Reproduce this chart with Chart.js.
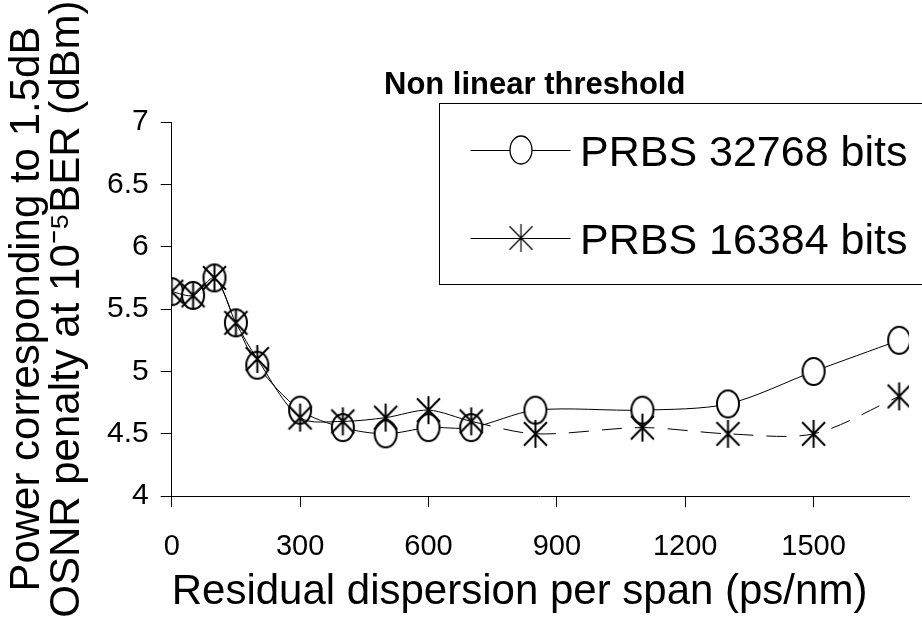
<!DOCTYPE html>
<html>
<head>
<meta charset="utf-8">
<script src="https://cdn.jsdelivr.net/npm/chart.js@4/dist/chart.umd.min.js"></script>
<style>
  html, body { margin: 0; padding: 0; background: #fff; }
  canvas { display: block; }
</style>
</head>
<body>
<canvas id="chart" width="922" height="631"></canvas>
<script>
// residual dispersion per span (ps/nm)
const dispersion = [0, 50, 100, 150, 200, 300, 400, 500, 600, 700, 850, 1100, 1300, 1500, 1700];
// power at 1.5dB OSNR penalty (dBm)
const prbs32768 = [5.64, 5.61, 5.75, 5.39, 5.05, 4.69, 4.55, 4.50, 4.55, 4.55, 4.69, 4.69, 4.74, 5.00, 5.25];
const prbs16384 = [5.64, 5.61, 5.75, 5.39, 5.10, 4.63, 4.60, 4.63, 4.69, 4.60, 4.50, 4.55, 4.50, 4.50, 4.80];
const seriesNames = ['PRBS 32768 bits', 'PRBS 16384 bits'];
const xTicks = [0, 300, 600, 900, 1200, 1500];
const yTicks = ['4', '4.5', '5', '5.5', '6', '6.5', '7'];
const chartTitle = 'Non linear threshold';
const xTitle = 'Residual dispersion per span (ps/nm)';
const yTitle = ['Power corresponding to 1.5dB', 'OSNR penalty at 10\u207B\u2075BER (dBm)'];

const SANS = '"Liberation Sans", Arial, sans-serif';

function circleMark(w, h, lw) {
  const c = document.createElement('canvas');
  c.width = w + 4; c.height = h + 4;
  const g = c.getContext('2d');
  g.beginPath();
  g.ellipse(c.width / 2, c.height / 2, w / 2, h / 2, 0, 0, Math.PI * 2);
  g.fillStyle = '#fff';
  g.fill();
  g.lineWidth = lw;
  g.strokeStyle = '#000';
  g.stroke();
  return c;
}

function starMark(w, h, lw) {
  const c = document.createElement('canvas');
  c.width = w + 4; c.height = h + 4;
  const g = c.getContext('2d');
  const cx = c.width / 2, cy = c.height / 2;
  g.strokeStyle = '#000';
  g.lineWidth = lw;
  g.beginPath();
  g.moveTo(cx, cy - h / 2); g.lineTo(cx, cy + h / 2);
  g.moveTo(cx - w / 2, cy - h * 0.42); g.lineTo(cx + w / 2, cy + h * 0.42);
  g.moveTo(cx - w / 2, cy + h * 0.42); g.lineTo(cx + w / 2, cy - h * 0.42);
  g.stroke();
  return c;
}

const plotMarks = [circleMark(22, 27, 2), starMark(23, 28, 2)];
const legendMarks = [circleMark(22, 28, 1.3), starMark(23, 28, 1.2)];

const overlay = {
  id: 'overlay',
  afterDraw(chart) {
    const ctx = chart.ctx;
    ctx.save();
    ctx.fillStyle = '#000';
    ctx.textBaseline = 'alphabetic';
    ctx.textAlign = 'left';
    ctx.font = 'bold 31px ' + SANS;
    ctx.fillText(chartTitle, 384, 94);

    ctx.fillStyle = '#fff';
    ctx.fillRect(439.5, 103.5, 600, 181);
    ctx.strokeStyle = '#000';
    ctx.lineWidth = 1;
    ctx.strokeRect(439.5, 103.5, 600, 181);

    chart.data.datasets.forEach((ds, i) => {
      const y = 150 + i * 88;
      ctx.beginPath();
      ctx.moveTo(470.5, y + 0.5);
      ctx.lineTo(570.5, y + 0.5);
      ctx.strokeStyle = '#000';
      ctx.lineWidth = 1;
      ctx.stroke();
      const m = legendMarks[i];
      ctx.drawImage(m, 521 - m.width / 2, y - m.height / 2);
      ctx.fillStyle = '#000';
      ctx.font = '43px ' + SANS;
      ctx.fillText(ds.label, 580, y + 16);
    });
    ctx.restore();
  }
};

new Chart(document.getElementById('chart'), {
  type: 'line',
  data: {
    datasets: [
      {
        label: seriesNames[0],
        data: dispersion.map((x, i) => ({ x: x, y: prbs32768[i] })),
        borderColor: '#000',
        borderWidth: 1,
        tension: 0.3,
        pointStyle: plotMarks[0],
        pointRadius: 12,
        order: 1
      },
      {
        label: seriesNames[1],
        data: dispersion.map((x, i) => ({ x: x, y: prbs16384[i] })),
        borderColor: '#000',
        borderWidth: 1,
        tension: 0.3,
        pointStyle: plotMarks[1],
        pointRadius: 12,
        order: 0,
        segment: {
          borderDash: ctx => ctx.p0.parsed.x >= 700 ? [20, 13] : undefined
        }
      }
    ]
  },
  options: {
    responsive: false,
    animation: false,
    events: [],
    layout: { padding: { top: 122, right: 0, bottom: 0, left: 0 } },
    plugins: {
      legend: { display: false },
      tooltip: { enabled: false }
    },
    scales: {
      x: {
        type: 'linear',
        min: 0,
        max: 1723,
        afterBuildTicks: axis => { axis.ticks = xTicks.map(v => ({ value: v })); },
        ticks: {
          color: '#000',
          padding: 22,
          maxRotation: 0,
          callback: v => String(v),
          font: { family: SANS, size: 29, lineHeight: 1.2 }
        },
        grid: {
          drawOnChartArea: false,
          drawTicks: true,
          tickLength: 11,
          color: '#000',
          lineWidth: 1
        },
        border: { display: true, color: '#000', width: 1 },
        title: {
          display: true,
          text: xTitle,
          color: '#000',
          align: 'start',
          padding: { top: -15, bottom: 18 },
          font: { family: SANS, size: 42, lineHeight: 1.0 }
        }
      },
      y: {
        type: 'linear',
        min: 4,
        max: 7,
        afterBuildTicks: axis => { axis.ticks = yTicks.map(v => ({ value: Number(v) })); },
        ticks: {
          color: '#000',
          padding: 12,
          callback: (v, i) => yTicks[i],
          font: { family: SANS, size: 30, lineHeight: 1.2 }
        },
        grid: {
          drawOnChartArea: false,
          drawTicks: true,
          tickLength: 11,
          color: '#000',
          lineWidth: 1
        },
        border: { display: true, color: '#000', width: 1 },
        title: {
          display: true,
          text: yTitle,
          color: '#000',
          padding: { top: 7, bottom: 8 },
          font: { family: SANS, size: 42, lineHeight: 40 / 42 }
        }
      }
    }
  },
  plugins: [overlay]
});
</script>
</body>
</html>
